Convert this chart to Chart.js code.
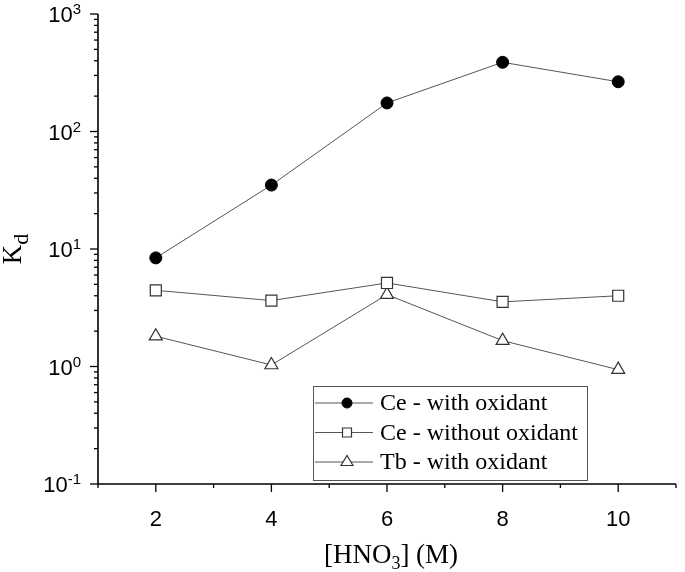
<!DOCTYPE html>
<html>
<head>
<meta charset="utf-8">
<script src="https://cdn.jsdelivr.net/npm/chart.js@4.4.0/dist/chart.umd.min.js"></script>
<style>
  body { margin: 0; background: #fff; }
  #kdChart { display: block; }
</style>
</head>
<body>
<canvas id="kdChart" width="685" height="572"></canvas>
<script>
// nitric acid concentration (M)
var hno3 = [2, 4, 6, 8, 10];
var ceWithOx = [8.4, 35, 175, 388, 265];
var ceNoOx = [4.45, 3.64, 5.14, 3.55, 4.0];
var tbWithOx = [1.81, 1.03, 4.09, 1.66, 0.94];
var seriesNames = ["Ce - with oxidant", "Ce - without oxidant", "Tb - with oxidant"];
var xTicks = [2, 4, 6, 8, 10];
var xMinor = [1, 3, 5, 7, 9, 11];
var yDecades = [-1, 0, 1, 2, 3];

var lineGray = "#555555";
var serif = "'Liberation Serif', 'Times New Roman', serif";
var sans = "'Liberation Sans', Arial, sans-serif";

function pts(vals) {
  return hno3.map(function(x, i) { return { x: x, y: vals[i] }; });
}

// axes, ticks, log labels, titles and the boxed legend
var decorPlugin = {
  id: "decor",
  afterDraw: function(chart) {
    var ctx = chart.ctx,
        xs = chart.scales.x,
        ys = chart.scales.y,
        area = chart.chartArea;
    ctx.save();
    ctx.strokeStyle = "#000";
    ctx.lineWidth = 1.6;
    ctx.beginPath();
    ctx.moveTo(area.left, area.top);
    ctx.lineTo(area.left, area.bottom);
    ctx.lineTo(area.right, area.bottom);
    ctx.stroke();

    // y ticks
    ctx.lineWidth = 1.3;
    yDecades.forEach(function(n) {
      var py = ys.getPixelForValue(Math.pow(10, n));
      ctx.beginPath();
      ctx.moveTo(area.left - 8, py);
      ctx.lineTo(area.left, py);
      ctx.stroke();
      if (n < 3) {
        for (var k = 2; k <= 9; k++) {
          var my = ys.getPixelForValue(k * Math.pow(10, n));
          ctx.beginPath();
          ctx.moveTo(area.left - 4, my);
          ctx.lineTo(area.left, my);
          ctx.stroke();
        }
      }
      // label 10^n
      ctx.fillStyle = "#000";
      ctx.textBaseline = "alphabetic";
      var exp = n < 0 ? "-" + Math.abs(n) : String(n);
      ctx.font = "15px " + sans;
      var ew = ctx.measureText(exp).width;
      ctx.font = "22px " + sans;
      var bw = ctx.measureText("10").width;
      var right = area.left - 17;
      ctx.textAlign = "left";
      ctx.fillText("10", right - ew - bw, py + 8);
      ctx.font = "15px " + sans;
      ctx.fillText(exp, right - ew, py);
    });

    // x ticks
    xTicks.forEach(function(v) {
      var px = xs.getPixelForValue(v);
      ctx.beginPath();
      ctx.moveTo(px, area.bottom);
      ctx.lineTo(px, area.bottom + 8);
      ctx.stroke();
    });
    xMinor.forEach(function(v) {
      var px = xs.getPixelForValue(v);
      ctx.beginPath();
      ctx.moveTo(px, area.bottom);
      ctx.lineTo(px, area.bottom + 4);
      ctx.stroke();
    });

    // x title [HNO3] (M)
    ctx.fillStyle = "#000";
    ctx.textAlign = "left";
    ctx.textBaseline = "alphabetic";
    var p1 = "[HNO", p2 = "3", p3 = "] (M)";
    ctx.font = "27px " + serif;
    var w1 = ctx.measureText(p1).width, w3 = ctx.measureText(p3).width;
    ctx.font = "18px " + serif;
    var w2 = ctx.measureText(p2).width;
    var cx = (area.left + area.right) / 2 + 4;
    var sx = cx - (w1 + w2 + w3) / 2;
    var by = 563;
    ctx.font = "27px " + serif;
    ctx.fillText(p1, sx, by);
    ctx.font = "18px " + serif;
    ctx.fillText(p2, sx + w1, by + 6);
    ctx.font = "27px " + serif;
    ctx.fillText(p3, sx + w1 + w2, by);

    // y title K_d
    ctx.save();
    ctx.translate(21, (area.top + area.bottom) / 2);
    ctx.rotate(-Math.PI / 2);
    ctx.font = "27px " + serif;
    var kw = ctx.measureText("K").width;
    ctx.font = "22px " + serif;
    var dw = ctx.measureText("d").width;
    ctx.font = "27px " + serif;
    ctx.fillText("K", -(kw + dw) / 2, 0);
    ctx.font = "22px " + serif;
    ctx.fillText("d", -(kw + dw) / 2 + kw, 7);
    ctx.restore();

    // legend box
    var lx = 313, ly = 386, lw = 274, lh = 94;
    ctx.strokeStyle = "#555";
    ctx.lineWidth = 1;
    ctx.strokeRect(lx + 0.5, ly + 0.5, lw, lh);
    chart.data.datasets.forEach(function(ds, i) {
      var ry = ly + 17 + i * 29.5;
      ctx.strokeStyle = lineGray;
      ctx.lineWidth = 1;
      ctx.beginPath();
      ctx.moveTo(lx + 2, ry);
      ctx.lineTo(lx + 60, ry);
      ctx.stroke();
      var mx = lx + 34;
      ctx.fillStyle = ds.pointBackgroundColor;
      ctx.strokeStyle = ds.pointBorderColor;
      ctx.lineWidth = ds.pointBorderWidth;
      ctx.beginPath();
      if (ds.pointStyle === "circle") {
        ctx.arc(mx, ry, 5, 0, Math.PI * 2);
      } else if (ds.pointStyle === "rect") {
        ctx.rect(mx - 4.5, ry - 4.5, 9, 9);
      } else {
        ctx.moveTo(mx, ry - 6.5);
        ctx.lineTo(mx + 6, ry + 3.5);
        ctx.lineTo(mx - 6, ry + 3.5);
        ctx.closePath();
      }
      ctx.fill();
      ctx.stroke();
      ctx.fillStyle = "#000";
      ctx.font = "24px " + serif;
      ctx.textBaseline = "middle";
      ctx.textAlign = "left";
      ctx.fillText(ds.label, lx + 67, ry + 1);
    });
    ctx.restore();
  }
};

var chartEl = document.getElementById("kdChart");
if (chartEl) {
  var kdChart = new Chart(chartEl, {
    type: "line",
    data: {
      datasets: [{
        label: seriesNames[0],
        data: pts(ceWithOx),
        borderColor: lineGray,
        borderWidth: 1,
        pointStyle: "circle",
        pointRadius: 6,
        pointBackgroundColor: "#000",
        pointBorderColor: "#000",
        pointBorderWidth: 1
      }, {
        label: seriesNames[1],
        data: pts(ceNoOx),
        borderColor: lineGray,
        borderWidth: 1,
        pointStyle: "rect",
        pointRadius: 7.8,
        pointBackgroundColor: "#fff",
        pointBorderColor: "#333",
        pointBorderWidth: 1.2
      }, {
        label: seriesNames[2],
        data: pts(tbWithOx),
        borderColor: lineGray,
        borderWidth: 1,
        pointStyle: "triangle",
        pointRadius: 7.5,
        pointBackgroundColor: "#fff",
        pointBorderColor: "#333",
        pointBorderWidth: 1.2
      }]
    },
    plugins: [decorPlugin],
    options: {
      responsive: false,
      animation: false,
      layout: { padding: { top: 14, right: 2, left: 0, bottom: 0 } },
      plugins: {
        legend: { display: false },
        tooltip: { enabled: false }
      },
      scales: {
        x: {
          type: "linear",
          min: 1,
          max: 11,
          afterBuildTicks: function(scale) {
            scale.ticks = xTicks.map(function(v) { return { value: v }; });
          },
          afterFit: function(scale) { scale.height = 88; },
          grid: { display: false },
          border: { display: false },
          ticks: {
            autoSkip: false,
            maxRotation: 0,
            padding: 15,
            color: "#000",
            font: { family: sans, size: 22 }
          }
        },
        y: {
          type: "logarithmic",
          min: 0.1,
          max: 1000,
          afterFit: function(scale) { scale.width = 98; },
          grid: { display: false },
          border: { display: false },
          ticks: { display: false }
        }
      }
    }
  });
}
</script>
</body>
</html>
